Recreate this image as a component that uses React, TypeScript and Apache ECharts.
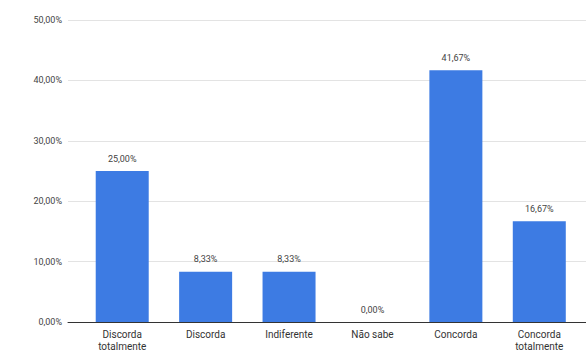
import React, { useEffect, useRef } from "react";
import * as echarts from "echarts";

const categories = ["Discorda\ntotalmente", "Discorda", "Indiferente", "Não sabe", "Concorda", "Concorda\ntotalmente"];
const values = [25.0, 8.33, 8.33, 0.0, 41.67, 16.67];
const yTicks = [0, 10, 20, 30, 40, 50];

const fmt = (v: number) => v.toFixed(2).replace(".", ",") + "%";

export default function App() {
  const ref = useRef<HTMLDivElement>(null);
  useEffect(() => {
    const chart = echarts.init(ref.current!, undefined, { renderer: "svg" });
    chart.setOption({
      animation: false,
      grid: { left: 68, right: 0, top: 20, bottom: 28, containLabel: false },
      xAxis: {
        type: "value",
        min: -0.65,
        max: 5.56,
        splitLine: { show: false },
        axisTick: { show: false },
        axisLine: { show: true, onZero: false, lineStyle: { color: "#333", width: 1 } },
        axisLabel: {
          customValues: categories.map((_, i) => i),
          formatter: (v: number) => categories[Math.round(v)] ?? "",
          color: "#333",
          fontSize: 10,
          fontFamily: "Roboto",
          margin: 6,
          lineHeight: 12,
        },
      },
      yAxis: {
        type: "value",
        min: 0,
        max: 50,
        interval: 10,
        axisLine: { show: false },
        axisTick: { show: false },
        splitLine: { lineStyle: { color: "#e3e3e3", width: 1 } },
        axisLabel: {
          formatter: (v: number) => (yTicks.includes(v) ? fmt(v) : ""),
          color: "#444",
          fontSize: 9,
          fontFamily: "Roboto",
          margin: 6,
        },
      },
      series: [
        {
          type: "bar",
          data: values.map((v, i) => [i, v]),
          barWidth: 53,
          itemStyle: { color: "#3d7be3" },
          label: {
            show: true,
            position: "top",
            distance: 8,
            formatter: (p: any) => fmt(p.value[1]),
            color: "#444",
            fontSize: 9,
            fontFamily: "Roboto",
          },
        },
      ],
    });
    return () => chart.dispose();
  }, []);
  return <div ref={ref} style={{ width: 586, height: 352, position: "absolute", left: 0, top: 0 }} />;
}
